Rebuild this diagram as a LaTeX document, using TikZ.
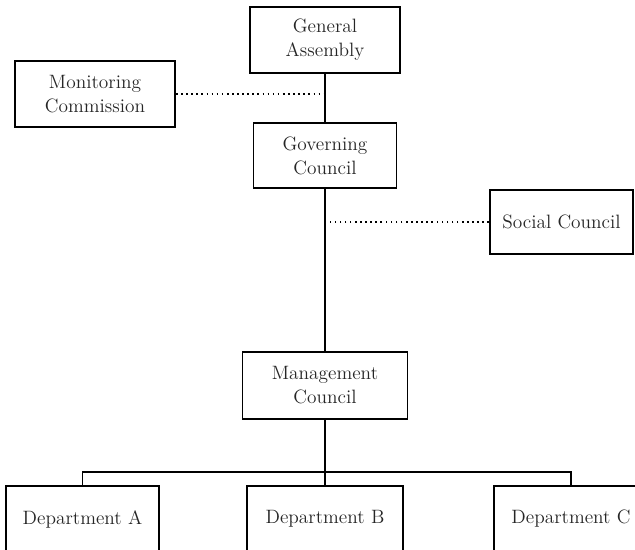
\documentclass[tikz,border=0pt]{standalone}
\usepackage{tikz}

\begin{document}
\begin{tikzpicture}[x=0.02cm, y=-0.02cm,
    unit/.style={draw, line width=1.1pt, align=center, inner sep=0pt,
      font=\fontsize{11}{13.6}\selectfont, text=black!85},
    link/.style={line width=0.9pt},
    advisory/.style={line width=0.9pt, dotted}]
  \useasboundingbox (0,0) rectangle (635,550);
  \clip (0,0) rectangle (635,550);

  \node[unit, minimum width=150*0.02cm, minimum height=66*0.02cm] (ga) at (325,40) {General\\Assembly};
  \node[unit, minimum width=160*0.02cm, minimum height=66*0.02cm] (mc) at (95,94) {Monitoring\\Commission};
  \node[unit, minimum width=143*0.02cm, minimum height=65*0.02cm] (gc) at (325,155.5) {Governing\\Council};
  \node[unit, minimum width=143*0.02cm, minimum height=64*0.02cm] (sc) at (561.5,222) {Social Council};
  \node[unit, minimum width=165*0.02cm, minimum height=67*0.02cm] (mgc) at (325,385.5) {Management\\Council};

  \node[unit, minimum width=153*0.02cm, minimum height=66*0.02cm] (da) at (82.5,519) {Department A};
  \node[unit, minimum width=156*0.02cm, minimum height=66*0.02cm] (db) at (325,519) {Department B};
  \node[unit, minimum width=154*0.02cm, minimum height=66*0.02cm] (dc) at (571,519) {Department C};

  \coordinate (bus) at (325,472);

  \draw[link] (ga) -- (gc);
  \draw[advisory] (mc.east) -| (ga.south);
  \draw[link] (gc) -- (mgc);
  \draw[advisory] (sc.west) -| (gc.south);

  \draw[link] (mgc) -- (db);
  \draw[link] (da.north) |- (bus) -| (dc.north);
\end{tikzpicture}
\end{document}
